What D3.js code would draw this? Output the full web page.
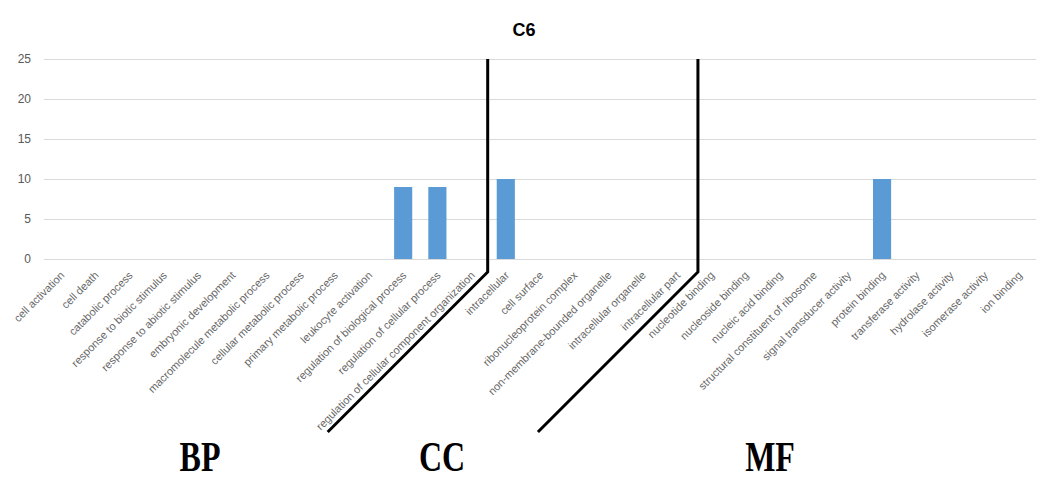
<!DOCTYPE html>
<html><head><meta charset="utf-8">
<script src="https://cdn.jsdelivr.net/npm/d3@7"></script>
<style>body{margin:0;background:#fff}svg{display:block}</style>
</head><body>
<script>
const categories = ["cell activation","cell death","catabolic process","response to biotic stimulus","response to abiotic stimulus","embryonic development","macromolecule metabolic process","cellular metabolic process","primary metabolic process","leukocyte activation","regulation of biological process","regulation of cellular process","regulation of cellular component organization","intracellular","cell surface","ribonucleoprotein complex","non-membrane-bounded organelle","intracellular organelle","intracellular part","nucleotide binding","nucleoside binding","nucleic acid binding","structural constituent of ribosome","signal transducer activity","protein binding","transferase activity","hydrolase activity","isomerase activity","ion binding"];
const values = [0,0,0,0,0,0,0,0,0,0,9,9,0,10,0,0,0,0,0,0,0,0,0,0,10,0,0,0,0];
const yTicks = [0,5,10,15,20,25];
const title = "C6";
const groups = ["BP","CC","MF"];
const groupStart = [0,13,19];

const W=1052,H=487;
const svg=d3.select("body").append("svg").attr("width",W).attr("height",H);
svg.append("rect").attr("width",W).attr("height",H).attr("fill","#fff");
const x=d3.scaleBand().domain(categories).range([44,1036]).paddingInner(0.47).paddingOuter(0.235);
const y=d3.scaleLinear().domain([0,25]).range([259,59]);
const step=x.step();
const bound=i=>x.range()[0]+i*step;

// gridlines
svg.append("g").selectAll("line").data(yTicks).join("line")
 .attr("x1",44).attr("x2",1036).attr("y1",d=>y(d)+0.5).attr("y2",d=>y(d)+0.5)
 .attr("stroke","#d9d9d9").attr("stroke-width",1);
// y labels
svg.append("g").selectAll("text").data(yTicks).join("text")
 .attr("x",31).attr("y",d=>y(d)+4).attr("text-anchor","end")
 .attr("font-family","Liberation Sans, Arial, sans-serif").attr("font-size",12).attr("fill","#595959")
 .text(d=>d);
// bars
svg.append("g").selectAll("rect").data(categories).join("rect")
 .attr("x",d=>x(d)).attr("width",x.bandwidth())
 .attr("y",(d,i)=>y(values[i])).attr("height",(d,i)=>y(0)-y(values[i]))
 .attr("fill","#5b9bd5");
// category labels
svg.append("g").selectAll("text").data(categories).join("text")
 .attr("transform",d=>`translate(${x(d)+x.bandwidth()/2+4},${276}) rotate(-45)`)
 .attr("text-anchor","end")
 .attr("font-family","Liberation Sans, Arial, sans-serif").attr("font-size",11).attr("fill","#666")
 .text(d=>d);
// title
svg.append("text").attr("x",524).attr("y",36).attr("text-anchor","middle")
 .attr("font-family","Liberation Sans, Arial, sans-serif").attr("font-weight","bold").attr("font-size",18).attr("fill","#000")
 .text(title);
// separator lines
const sepX=[bound(groupStart[1])-1, bound(groupStart[2])+4];
sepX.forEach(sx=>{
  svg.append("path").attr("d",`M${sx},${y(25)} L${sx},272 L${sx-160},432`)
   .attr("fill","none").attr("stroke","#000").attr("stroke-width",3);
});
// group labels
const gx=[200,442,770];
groups.forEach((g,i)=>{
  svg.append("text").attr("transform",`translate(${gx[i]},471) scale(1,1.3)`)
   .attr("text-anchor","middle")
   .attr("font-family","Liberation Serif, Times New Roman, serif").attr("font-weight","bold").attr("font-size",32).attr("fill","#000")
   .text(g);
});
</script>
</body></html>
